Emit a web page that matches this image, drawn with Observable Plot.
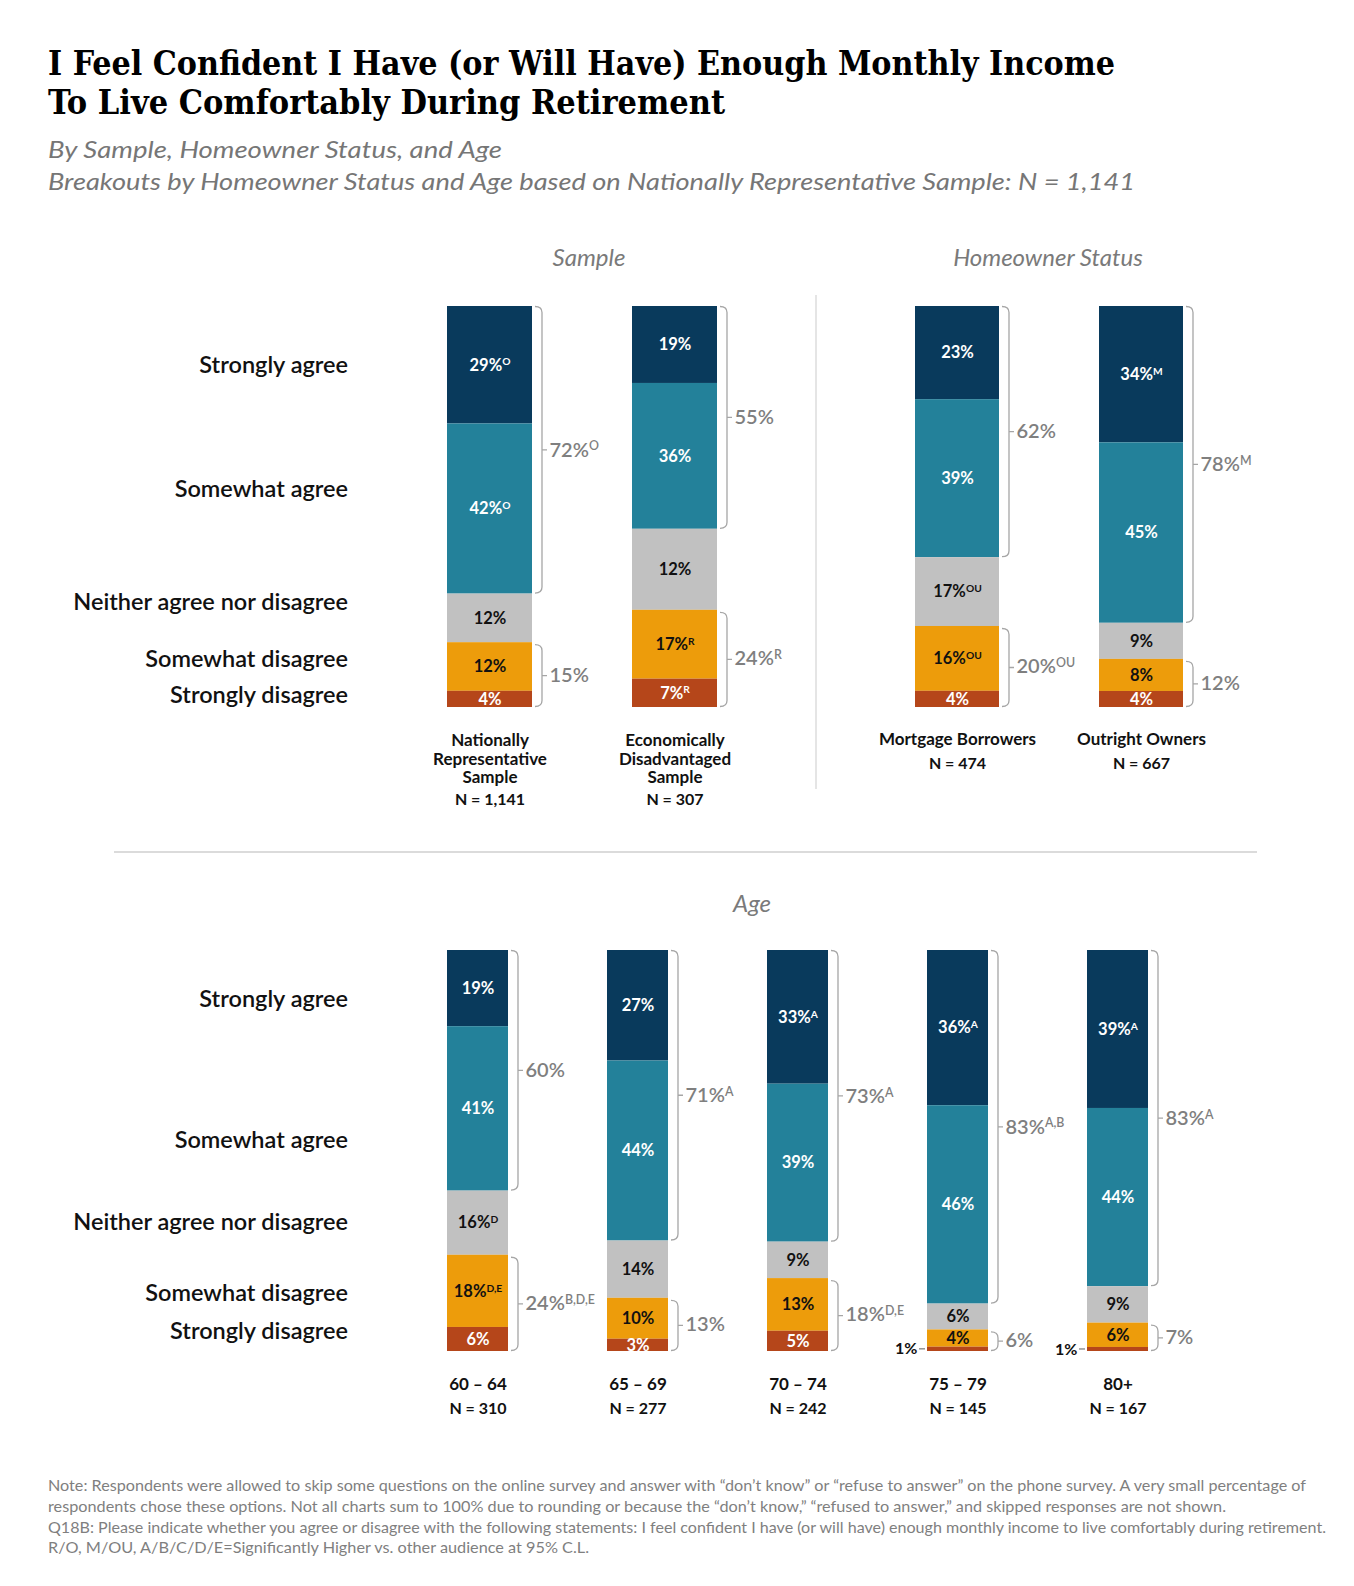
<!DOCTYPE html>
<html><head><meta charset="utf-8">
<script src="https://cdn.jsdelivr.net/npm/d3@7"></script>
<script src="https://cdn.jsdelivr.net/npm/@observablehq/plot@0.6"></script>
<style>
body{margin:0;background:#fff;}
#page{position:relative;width:1354px;height:1586px;overflow:hidden;background:#fff;font-family:Lato,sans-serif;}
#page svg{position:absolute;}
</style></head><body><div id="page"></div>
<script>
// ---------------- DATA ----------------
const responses = ["Strongly agree","Somewhat agree","Neither agree nor disagree","Somewhat disagree","Strongly disagree"];
const fillColors = ["#093a5c","#23819a","#c1c1c1","#ed9c0b","#b5461a"];
const labelColors = ["#ffffff","#ffffff","#111111","#111111","#ffffff"];

const sampleGroups = ["Nationally\nRepresentative\nSample","Economically\nDisadvantaged\nSample"];
const sampleN = ["N = 1,141","N = 307"];
// bar lengths as drawn (the neutral bar of the second sample is drawn at ~20 although labelled 12%)
const sampleValues = [[29,42,12,12,4],[19,36,20,17,7]];
const sampleLabels = [["29%^O","42%^O","12%","12%","4%"],["19%","36%","12%","17%^R","7%^R"]];
const sampleNetAgree = ["72%^O","55%"];
const sampleNetDisagree = ["15%","24%^R"];

const ownerGroups = ["Mortgage Borrowers","Outright Owners"];
const ownerN = ["N = 474","N = 667"];
const ownerValues = [[23,39,17,16,4],[34,45,9,8,4]];
const ownerLabels = [["23%","39%","17%^OU","16%^OU","4%"],["34%^M","45%","9%","8%","4%"]];
const ownerNetAgree = ["62%","78%^M"];
const ownerNetDisagree = ["20%^OU","12%"];

const ageGroups = ["60 – 64","65 – 69","70 – 74","75 – 79","80+"];
const ageN = ["N = 310","N = 277","N = 242","N = 145","N = 167"];
const ageValues = [[19,41,16,18,6],[27,44,14,10,3],[33,39,9,13,5],[36,46,6,4,1],[39,44,9,6,1]];
const ageLabels = [["19%","41%","16%^D","18%^D,E","6%"],["27%","44%","14%","10%","3%"],["33%^A","39%","9%","13%","5%"],["36%^A","46%","6%","4%","1%"],["39%^A","44%","9%","6%","1%"]];
const ageNetAgree = ["60%","71%^A","73%^A","83%^A,B","83%^A"];
const ageNetDisagree = ["24%^B,D,E","13%","18%^D,E","6%","7%"];

const titleLines = ["I Feel Confident I Have (or Will Have) Enough Monthly Income","To Live Comfortably During Retirement"];
const subtitleLines = ["By Sample, Homeowner Status, and Age","Breakouts by Homeowner Status and Age based on Nationally Representative Sample: N = 1,141"];
const panelTitles = ["Sample","Homeowner Status","Age"];
const noteLines = [
 "Note: Respondents were allowed to skip some questions on the online survey and answer with “don’t know” or “refuse to answer” on the phone survey.  A very small percentage of",
 "respondents chose these options. Not all charts sum to 100% due to rounding or because the “don’t know,” “refused to answer,” and skipped responses are not shown.",
 "Q18B: Please indicate whether you agree or disagree with the following statements: I feel confident I have (or will have) enough monthly income to live comfortably during retirement.",
 "R/O, M/OU, A/B/C/D/E=Significantly Higher vs. other audience at 95% C.L."
];

// ---------------- STATIC TEXT LAYER ----------------
const page = d3.select("#page");
const ov = page.append("svg").attr("width",1354).attr("height",1586).style("left","0px").style("top","0px");

function addText(str, x, y, o = {}) {
  const t = ov.append("text").attr("x", x).attr("y", y).text(str)
    .attr("font-family", o.family || "Lato, sans-serif")
    .attr("font-size", o.size || 16)
    .attr("font-weight", o.weight || 400)
    .attr("font-style", o.style || "normal")
    .attr("fill", o.fill || "#111")
    .attr("text-anchor", o.anchor || "start");
  if (o.fit) t.attr("textLength", o.fit).attr("lengthAdjust", "spacingAndGlyphs");
  return t;
}

const titleFont = "'DejaVu Serif Condensed','DejaVu Serif',serif";
addText(titleLines[0], 48, 75, {family: titleFont, size: 34, weight: 700, fill: "#000", fit: 1067});
addText(titleLines[1], 48, 114, {family: titleFont, size: 34, weight: 700, fill: "#000", fit: 677});
addText(subtitleLines[0], 48, 158, {size: 23, style: "italic", fill: "#767676", fit: 454});
addText(subtitleLines[1], 48, 190, {size: 23, style: "italic", fill: "#767676", fit: 1087});

addText(panelTitles[0], 589, 266, {size: 24, style: "italic", fill: "#7a7a7a", anchor: "middle"});
addText(panelTitles[1], 1048, 266, {size: 24, style: "italic", fill: "#7a7a7a", anchor: "middle"});
addText(panelTitles[2], 752, 912, {size: 24, style: "italic", fill: "#7a7a7a", anchor: "middle"});

// dividers
ov.append("line").attr("x1",816).attr("x2",816).attr("y1",295).attr("y2",789).attr("stroke","#d4d4d4").attr("stroke-width",1.2);
ov.append("line").attr("x1",114).attr("x2",1257).attr("y1",852).attr("y2",852).attr("stroke","#cfcfcf").attr("stroke-width",1.5);

// row labels (layout baselines)
const topRowBaselines = [373, 497, 610, 667, 703];
const ageRowBaselines = [1007, 1148, 1230, 1301, 1339];
responses.forEach((r,i)=>{
  addText(r, 348, topRowBaselines[i], {size: 23.5, weight: 600, anchor: "end", fill: "#111"});
  addText(r, 348, ageRowBaselines[i], {size: 23.5, weight: 600, anchor: "end", fill: "#111"});
});

// notes
const noteBaselines = [1491, 1512, 1533, 1553];
const noteWidths = [1258, 1178, 1278, 541];
noteLines.forEach((l,i)=>addText(l, 48, noteBaselines[i], {size: 16, fill: "#7f7f7f", fit: noteWidths[i]}));

// ---------------- PLOT PANELS ----------------
function supify(svg){
  d3.select(svg).selectAll("text").each(function(){
    if (this.querySelector("tspan")) return;
    const t = this.textContent;
    if (!t.includes("^")) return;
    const [main, sup] = t.split("^");
    const el = d3.select(this); el.text(null);
    el.append("tspan").text(main);
    el.append("tspan").attr("dy","-0.5em").attr("font-size","0.62em").text(sup);
  });
}

function braceMark(nets, rows) {
  return (index, scales) => {
    const x = scales.x, y = scales.y;
    const bw = x.bandwidth();
    const g = d3.create("svg:g").attr("fill","none");
    for (const d of nets) {
      const xr = x(d.group) + bw;
      for (const [t,b,it,ib] of [[d.aTop,d.aBot,0.5,0.5],[d.dTop,d.dBot,2.5,0.5]]) {
        const y0 = y(t)+it, y1 = y(b)-ib, xv = xr+10, xs = xr+3, ym = (y0+y1)/2;
        g.append("path").attr("stroke","#a6a6a6").attr("stroke-width",1.3)
          .attr("d", `M${xs},${y0}Q${xv},${y0} ${xv},${y0+6}V${y1-6}Q${xv},${y1} ${xs},${y1}M${xv},${ym}H${xv+5}`);
      }
    }
    // leader ticks for segments too thin for an inside label
    const groups = [...new Set(rows.map(r=>r.group))];
    for (const gname of groups) {
      const rs = rows.filter(r=>r.group===gname);
      const T = d3.sum(rs, r=>r.value);
      let cum = 0;
      for (const r of rs) {
        if (r.value < 2) {
          const yc = y((cum + r.value/2)/T);
          g.append("path").attr("stroke","#777").attr("stroke-width",1.2)
            .attr("d", `M${x(gname)-8},${yc}H${x(gname)-2}`);
        }
        cum += r.value;
      }
    }
    return g.node();
  };
}

function makePanel(cfg){
  const {groups, nLabels, values, labels, netAgree, netDisagree, svgLeft, svgTop, width, barLeft, step, barWidth, barHeight, marginTop, marginBottom, nameDy, nameGap} = cfg;
  const n = groups.length;
  const rangeLen = step*(n-1)+barWidth;
  const marginRight = width - barLeft - rangeLen;
  const rows = [];
  groups.forEach((g,i)=>responses.forEach((r,j)=>rows.push({group:g, response:r, idx:j, value: values[i][j], label: labels[i][j]})));
  const nets = groups.map((g,i)=>{
    const v = values[i]; const T = d3.sum(v);
    return {group:g, aTop:0, aBot:(v[0]+v[1])/T, dTop:(v[0]+v[1]+v[2])/T, dBot:1, agree: netAgree[i], disagree: netDisagree[i]};
  });
  const netRows = nets.flatMap(d=>[{group:d.group, y:(d.aTop+d.aBot)/2, text:d.agree},{group:d.group, y:(d.dTop+d.dBot)/2, text:d.disagree}]);
  const lineCount = g => g.split("\n").length;
  const counts = [...new Set(groups.map(lineCount))];
  const nRows = groups.map((g,i)=>({g, n:nLabels[i], k: lineCount(g)}));
  const stackOpts = {x:"group", y:"value", z:"response", offset:"normalize"};
  const fs = 17, lh = 1.07;
  const svg = Plot.plot({
    width, height: marginTop+barHeight+marginBottom, marginTop, marginBottom, marginLeft: barLeft, marginRight,
    x: {domain: groups, paddingInner: 1-barWidth/step, paddingOuter: 0, axis: null},
    y: {domain:[0,1], reverse:true, axis:null},
    color: {type:"identity"},
    style: {background:"transparent", overflow:"visible", fontFamily:"Lato, sans-serif"},
    marks: [
      Plot.barY(rows, Plot.stackY({...stackOpts, fill: d=>fillColors[d.idx]})),
      Plot.text(rows, Plot.stackY({...stackOpts, text: d=> d.value>=2 ? d.label : null, fill: d=>labelColors[d.idx], fontSize:16.5, fontWeight:700})),
      Plot.text(rows, Plot.stackY({...stackOpts, text: d=> d.value<2 ? d.label : null, fill:"#111", fontSize:16, fontWeight:700, textAnchor:"end", dx: -(barWidth/2+10)})),
      braceMark(nets, rows),
      Plot.text(netRows, {x:"group", y:"y", text:"text", textAnchor:"start", dx: barWidth/2+17, fill:"#7f7f7f", fontSize:20, fontWeight:600}),
      Plot.text(groups, {x: d=>d, text: d=>d, frameAnchor:"bottom", lineAnchor:"top", dy: nameDy, fontSize:fs, fontWeight:700, lineHeight:lh, fill:"#111"}),
      ...counts.map(k => Plot.text(nRows.filter(d=>d.k===k), {x:"g", text:"n", frameAnchor:"bottom", lineAnchor:"top", dy: nameDy + (k-1)*fs*lh + nameGap, fontSize:fs - 1, fontWeight:700, fill:"#111"}))
    ]
  });
  supify(svg);
  svg.style.position = "absolute";
  svg.style.left = svgLeft + "px";
  svg.style.top = svgTop + "px";
  svg.style.maxWidth = "none";
  page.node().appendChild(svg);
}

makePanel({groups: sampleGroups, nLabels: sampleN, values: sampleValues, labels: sampleLabels,
  netAgree: sampleNetAgree, netDisagree: sampleNetDisagree,
  svgLeft: 0, svgTop: 296, width: 816, barLeft: 447, step: 185, barWidth: 85,
  barHeight: 401, marginTop: 10, marginBottom: 115, nameDy: 26, nameGap: 24});

makePanel({groups: ownerGroups, nLabels: ownerN, values: ownerValues, labels: ownerLabels,
  netAgree: ownerNetAgree, netDisagree: ownerNetDisagree,
  svgLeft: 817, svgTop: 296, width: 537, barLeft: 98, step: 184, barWidth: 84,
  barHeight: 401, marginTop: 10, marginBottom: 115, nameDy: 25, nameGap: 25});

makePanel({groups: ageGroups, nLabels: ageN, values: ageValues, labels: ageLabels,
  netAgree: ageNetAgree, netDisagree: ageNetDisagree,
  svgLeft: 0, svgTop: 940, width: 1354, barLeft: 447, step: 160, barWidth: 61,
  barHeight: 401, marginTop: 10, marginBottom: 85, nameDy: 26, nameGap: 25});
</script></body></html>
